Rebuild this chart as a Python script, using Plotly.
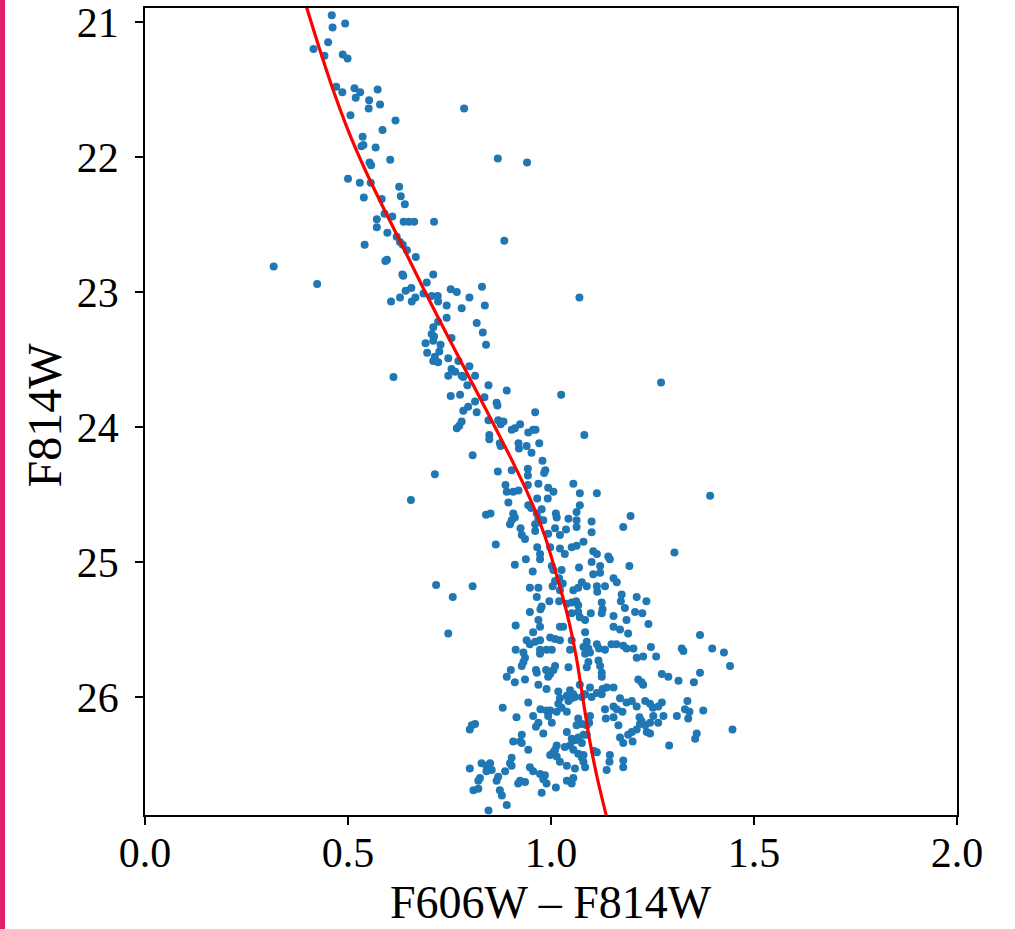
import plotly.graph_objects as go

# ---- star photometry (F606W-F814W colour, F814W magnitude) ----
upper_stars = [
    (0.460, 20.95), (0.462, 21.04), (0.493, 21.01), (0.451, 21.15), (0.415, 21.20), (0.442, 21.25),
    (0.487, 21.24), (0.499, 21.27), (0.471, 21.48), (0.486, 21.52), (0.516, 21.49), (0.530, 21.52),
    (0.519, 21.56), (0.573, 21.50), (0.552, 21.58), (0.579, 21.61), (0.551, 21.64), (0.506, 21.69),
    (0.786, 21.64), (0.617, 21.73), (0.585, 21.80), (0.536, 21.85), (0.533, 21.92), (0.538, 21.91),
    (0.568, 21.93), (0.604, 22.02), (0.553, 22.04), (0.557, 22.06), (0.869, 22.01), (0.941, 22.04),
    (0.500, 22.16), (0.529, 22.19), (0.556, 22.19), (0.626, 22.22), (0.630, 22.29), (0.539, 22.30),
    (0.583, 22.31), (0.640, 22.35), (0.590, 22.42), (0.609, 22.44), (0.571, 22.46), (0.637, 22.48),
    (0.650, 22.48), (0.663, 22.48), (0.712, 22.48), (0.571, 22.52), (0.597, 22.56), (0.620, 22.59),
    (0.628, 22.63), (0.635, 22.65), (0.645, 22.69), (0.541, 22.65), (0.885, 22.62), (0.667, 22.74),
    (0.596, 22.76), (0.592, 22.77), (0.317, 22.81), (0.424, 22.94), (0.634, 22.87), (0.636, 22.88),
    (0.710, 22.87), (0.694, 22.93), (0.830, 22.96), (0.642, 22.99), (0.656, 22.97), (0.753, 22.98),
]

middle_stars = [
    (0.768, 23.00), (0.799, 23.04), (1.070, 23.04), (0.606, 23.07), (0.628, 23.04), (0.657, 23.07),
    (0.666, 23.04), (0.686, 23.01), (0.706, 23.03), (0.721, 23.03), (0.722, 23.07), (0.743, 23.10),
    (0.780, 23.12), (0.837, 23.10), (0.743, 23.19), (0.722, 23.22), (0.710, 23.26), (0.817, 23.23),
    (0.706, 23.31), (0.712, 23.33), (0.755, 23.34), (0.832, 23.30), (0.840, 23.39), (0.691, 23.38),
    (0.710, 23.36), (0.728, 23.39), (0.725, 23.44), (0.695, 23.45), (0.714, 23.48), (0.722, 23.52),
    (0.710, 23.51), (0.747, 23.49), (0.772, 23.51), (0.755, 23.57), (0.764, 23.59), (0.799, 23.55),
    (0.747, 23.62), (0.780, 23.62), (0.784, 23.63), (0.813, 23.62), (0.612, 23.63), (0.794, 23.69),
    (0.846, 23.69), (0.891, 23.73), (1.025, 23.76), (1.271, 23.67), (0.753, 23.77), (0.776, 23.76),
    (0.836, 23.78), (0.813, 23.81), (0.866, 23.82), (0.868, 23.84), (0.796, 23.85), (0.784, 23.88),
    (0.817, 23.89), (0.961, 23.89), (0.846, 23.95), (0.870, 23.95), (0.876, 23.98), (0.883, 23.96),
    (0.780, 23.96), (0.774, 23.99), (0.768, 24.01), (0.903, 24.02), (0.911, 24.01), (0.924, 23.98),
    (0.944, 24.04), (0.956, 24.02), (0.962, 24.02), (0.848, 24.06), (1.082, 24.06), (0.848, 24.09),
    (0.874, 24.12), (0.876, 24.14), (0.807, 24.21), (0.920, 24.12), (0.940, 24.14), (0.971, 24.12),
    (0.921, 24.16), (0.952, 24.19), (0.714, 24.35), (0.655, 24.54), (0.979, 24.25), (0.903, 24.32),
    (0.943, 24.31), (0.943, 24.36), (0.986, 24.32), (0.983, 24.34), (0.869, 24.33), (0.888, 24.43),
    (0.920, 24.47), (0.907, 24.48), (0.891, 24.48), (0.943, 24.43), (0.969, 24.42), (0.993, 24.45),
    (1.006, 24.48), (1.055, 24.42), (1.071, 24.49), (1.113, 24.49), (1.392, 24.51), (0.895, 24.56),
    (0.944, 24.58), (0.951, 24.60), (0.966, 24.53), (0.992, 24.53), (0.977, 24.61), (1.071, 24.58),
    (1.063, 24.63), (0.840, 24.65), (0.851, 24.64), (0.907, 24.64), (0.911, 24.67), (0.903, 24.69),
    (0.899, 24.72), (0.965, 24.64), (0.969, 24.68), (0.981, 24.69), (1.012, 24.64), (1.014, 24.67),
    (1.043, 24.68), (1.063, 24.69), (1.063, 24.74), (1.100, 24.70), (1.196, 24.66), (1.178, 24.74),
    (0.925, 24.75), (0.928, 24.80), (0.936, 24.83), (0.961, 24.77), (0.961, 24.72), (0.993, 24.79),
    (1.010, 24.75), (1.022, 24.80), (1.037, 24.76), (1.100, 24.78), (0.864, 24.87), (0.966, 24.89),
    (0.998, 24.89), (1.022, 24.90), (1.034, 24.94), (1.051, 24.89), (1.063, 24.88), (1.080, 24.85),
    (1.104, 24.92), (1.113, 24.94), (1.141, 24.96), (1.145, 24.98), (1.304, 24.93), (0.938, 24.98),
    (0.973, 24.94), (0.973, 24.98),
]

lower_stars = [
    (0.911, 25.02), (1.002, 25.03), (1.026, 25.06), (1.069, 25.04), (1.100, 25.00), (1.121, 25.03),
    (1.193, 25.03), (0.717, 25.17), (0.758, 25.26), (0.747, 25.53), (0.807, 25.18), (0.955, 25.07),
    (1.006, 25.06), (1.104, 25.09), (1.121, 25.08), (0.948, 25.19), (0.969, 25.19), (1.004, 25.18),
    (1.010, 25.14), (1.020, 25.12), (1.029, 25.16), (1.022, 25.21), (1.055, 25.21), (1.067, 25.19),
    (1.076, 25.15), (1.088, 25.18), (1.113, 25.18), (1.114, 25.22), (1.133, 25.18), (1.154, 25.12),
    (1.162, 25.15), (0.965, 25.26), (0.996, 25.29), (1.020, 25.29), (1.039, 25.31), (1.051, 25.30),
    (1.062, 25.29), (1.067, 25.32), (1.125, 25.30), (1.127, 25.35), (1.125, 25.38), (1.174, 25.24),
    (1.172, 25.29), (1.182, 25.34), (1.211, 25.26), (1.235, 25.29), (1.207, 25.37), (1.225, 25.38),
    (0.948, 25.37), (0.974, 25.35), (0.977, 25.33), (1.051, 25.38), (1.067, 25.37), (1.071, 25.41),
    (1.084, 25.43), (1.098, 25.38), (1.154, 25.40), (1.186, 25.43), (1.240, 25.46), (0.913, 25.47),
    (0.969, 25.43), (0.973, 25.48), (1.022, 25.48), (1.030, 25.48), (1.084, 25.52), (1.154, 25.48),
    (1.170, 25.50), (1.190, 25.53), (0.956, 25.52), (0.940, 25.58), (0.961, 25.59), (0.973, 25.58),
    (0.948, 25.61), (0.998, 25.56), (1.010, 25.57), (1.022, 25.58), (1.051, 25.58), (1.047, 25.65),
    (1.088, 25.59), (1.080, 25.63), (1.092, 25.64), (1.084, 25.68), (1.096, 25.67), (1.113, 25.61),
    (1.118, 25.64), (1.133, 25.65), (1.149, 25.61), (1.161, 25.61), (1.178, 25.62), (1.186, 25.64),
    (1.203, 25.64), (1.246, 25.63), (1.322, 25.64), (1.326, 25.66), (1.367, 25.54), (1.397, 25.64),
    (1.426, 25.67), (1.441, 25.77), (0.913, 25.65), (0.932, 25.67), (0.936, 25.71), (0.973, 25.65),
    (0.989, 25.65), (1.002, 25.65), (0.973, 25.68), (1.117, 25.73), (1.121, 25.77), (1.125, 25.82),
    (1.125, 25.85), (1.092, 25.74), (1.088, 25.78), (1.043, 25.78), (1.010, 25.77), (1.006, 25.80),
    (0.998, 25.83), (0.993, 25.85), (0.963, 25.80), (0.965, 25.82), (0.988, 25.80), (0.932, 25.74),
    (0.928, 25.77), (0.901, 25.80), (0.891, 25.85), (0.911, 25.89), (0.936, 25.87), (0.969, 25.91),
    (0.989, 25.94), (1.211, 25.71), (1.227, 25.70), (1.259, 25.70), (1.215, 25.87), (1.223, 25.89),
    (1.227, 25.91), (1.273, 25.83), (1.289, 25.85), (1.314, 25.88), (1.352, 25.89), (1.367, 25.82),
    (1.154, 25.93), (1.137, 25.93), (1.018, 25.96), (1.047, 25.95), (1.055, 25.98), (1.039, 25.99),
    (1.071, 25.91), (1.096, 25.93), (1.113, 25.97), (1.127, 25.94),
]

faint_stars = [
    (1.022, 26.01), (1.059, 26.00), (1.051, 26.01), (1.076, 26.00), (1.084, 25.98), (1.100, 26.00),
    (1.125, 25.98), (1.170, 26.01), (1.186, 26.04), (1.199, 26.03), (1.211, 26.07), (1.232, 26.03),
    (1.244, 26.05), (1.251, 26.08), (1.264, 26.07), (1.273, 26.04), (1.336, 26.03), (1.330, 26.09),
    (1.341, 26.11), (1.375, 26.10), (1.310, 26.14), (1.338, 26.16), (1.447, 26.24), (1.359, 26.27),
    (1.355, 26.31), (1.291, 26.36), (1.218, 26.15), (1.223, 26.18), (1.219, 26.20), (1.232, 26.21),
    (1.244, 26.19), (1.244, 26.27), (1.236, 26.26), (1.211, 26.24), (1.199, 26.26), (1.190, 26.28),
    (1.178, 26.34), (1.201, 26.33), (1.170, 26.30), (1.252, 26.14), (1.264, 26.19), (1.277, 26.14),
    (1.133, 26.09), (1.154, 26.07), (1.162, 26.09), (1.176, 26.11), (1.135, 26.16), (1.154, 26.15),
    (1.166, 26.21), (1.096, 26.14), (1.094, 26.19), (1.067, 26.16), (1.076, 26.20), (1.063, 26.21),
    (1.088, 26.21), (1.039, 26.11), (1.026, 26.08), (1.014, 26.11), (0.998, 26.10), (0.993, 26.14),
    (1.002, 26.19), (1.018, 26.05), (1.043, 26.03), (0.956, 26.14), (0.969, 26.19), (0.963, 26.22),
    (0.981, 26.27), (0.974, 26.09), (0.989, 26.10), (0.944, 26.04), (0.915, 26.15), (0.881, 26.08),
    (0.805, 26.21), (0.813, 26.20), (0.800, 26.24), (0.928, 26.28), (0.924, 26.33), (0.907, 26.33),
    (0.928, 26.34), (0.944, 26.39), (1.039, 26.26), (1.051, 26.31), (1.059, 26.32), (1.067, 26.30),
    (1.076, 26.34), (1.080, 26.28), (1.088, 26.28), (1.047, 26.36), (1.055, 26.39), (1.067, 26.42),
    (1.080, 26.43), (1.034, 26.37), (1.014, 26.36), (1.010, 26.39), (1.006, 26.41), (0.998, 26.43),
    (1.014, 26.44), (1.022, 26.48), (1.039, 26.51), (1.059, 26.53), (1.076, 26.45), (1.080, 26.48),
    (1.084, 26.52), (1.106, 26.40), (1.113, 26.41), (1.145, 26.43), (1.144, 26.48), (1.137, 26.54),
    (1.178, 26.47), (1.178, 26.52), (0.903, 26.45), (0.899, 26.49), (0.903, 26.51), (0.829, 26.49),
    (0.841, 26.51), (0.850, 26.49), (0.854, 26.54), (0.800, 26.53), (0.841, 26.55), (0.825, 26.60),
    (0.821, 26.62), (0.887, 26.55), (0.870, 26.59), (0.866, 26.62), (0.948, 26.52), (0.956, 26.55),
    (0.973, 26.57), (0.985, 26.58), (0.981, 26.61), (0.924, 26.62), (0.919, 26.64), (0.936, 26.63),
    (0.989, 26.64), (1.012, 26.67), (1.039, 26.62), (1.055, 26.60), (1.051, 26.64), (0.809, 26.69),
    (0.821, 26.68), (0.874, 26.69), (0.879, 26.73), (0.977, 26.71), (0.891, 26.80), (0.846, 26.84),
]

# ---- isochrone ----
iso_color = [0.393, 0.399, 0.430, 0.463, 0.500, 0.543, 0.591, 0.641, 0.690, 0.741, 0.793, 0.845,
             0.896, 0.944, 0.984, 1.014, 1.041, 1.062, 1.078, 1.094, 1.114, 1.142]
iso_mag = [20.84, 20.90, 21.20, 21.50, 21.80, 22.10, 22.40, 22.70, 23.00, 23.30, 23.60, 23.90,
           24.20, 24.50, 24.80, 25.10, 25.40, 25.70, 26.00, 26.30, 26.60, 26.95]

x_ticks = [0.0, 0.5, 1.0, 1.5, 2.0]
y_ticks = [21, 22, 23, 24, 25, 26]

x_title = "F606W – F814W"
y_title = "F814W"

stars = upper_stars + middle_stars + lower_stars + faint_stars
star_color = [s[0] for s in stars]
star_mag = [s[1] for s in stars]

FONT = "Liberation Serif, DejaVu Serif, serif"

fig = go.Figure()
fig.add_trace(go.Scatter(
    x=star_color, y=star_mag, mode="markers",
    marker=dict(size=8, color="#1f77b4", line=dict(width=0)),
    showlegend=False, hoverinfo="x+y",
))
fig.add_trace(go.Scatter(
    x=iso_color, y=iso_mag, mode="lines",
    line=dict(color="#ff0000", width=3.2, shape="spline", smoothing=0.8),
    showlegend=False,
))

W, H = 1015, 929
L, R, T, B = 145, 58, 8, 114
pw, ph = W - L - R, H - T - B

fig.update_layout(
    width=W, height=H,
    margin=dict(l=L, r=R, t=T, b=B, pad=0, autoexpand=False),
    paper_bgcolor="white", plot_bgcolor="white",
    font=dict(family=FONT, color="black", size=42),
    xaxis=dict(
        range=[0, 2], tickvals=x_ticks, ticktext=[f"{v:.1f}" for v in x_ticks],
        showgrid=False, zeroline=False, showline=True, mirror=True, automargin=False,
        linecolor="black", linewidth=1.5, ticks="outside", ticklen=8, tickwidth=1.5,
        tickcolor="black", tickfont=dict(size=42, family=FONT), ticklabelstandoff=-8,
        ticklabeloverflow="allow",
    ),
    yaxis=dict(
        range=[26.874, 20.896], tickvals=y_ticks, ticktext=[str(v) for v in y_ticks],
        showgrid=False, zeroline=False, showline=True, mirror=True, automargin=False,
        linecolor="black", linewidth=1.5, ticks="outside", ticklen=8, tickwidth=1.5,
        tickcolor="black", tickfont=dict(size=42, family=FONT), ticklabelstandoff=8,
        ticklabeloverflow="allow",
    ),
    annotations=[
        dict(text=x_title, xref="paper", yref="paper", x=0.5, y=(815 - 902) / ph,
             xanchor="center", yanchor="middle", showarrow=False,
             font=dict(size=46, family=FONT, color="black")),
        dict(text=y_title, xref="paper", yref="paper", x=(43.5 - L) / pw, y=(815 - 415) / ph,
             xanchor="center", yanchor="middle", showarrow=False, textangle=-90,
             font=dict(size=48, family=FONT, color="black")),
    ],
    shapes=[dict(
        type="rect", xref="paper", yref="paper",
        x0=-L / pw, x1=-(L - 5) / pw, y0=-B / ph, y1=1 + T / ph,
        fillcolor="#e0206b", line=dict(width=0), layer="above",
    )],
)

fig.write_html("out.html")
